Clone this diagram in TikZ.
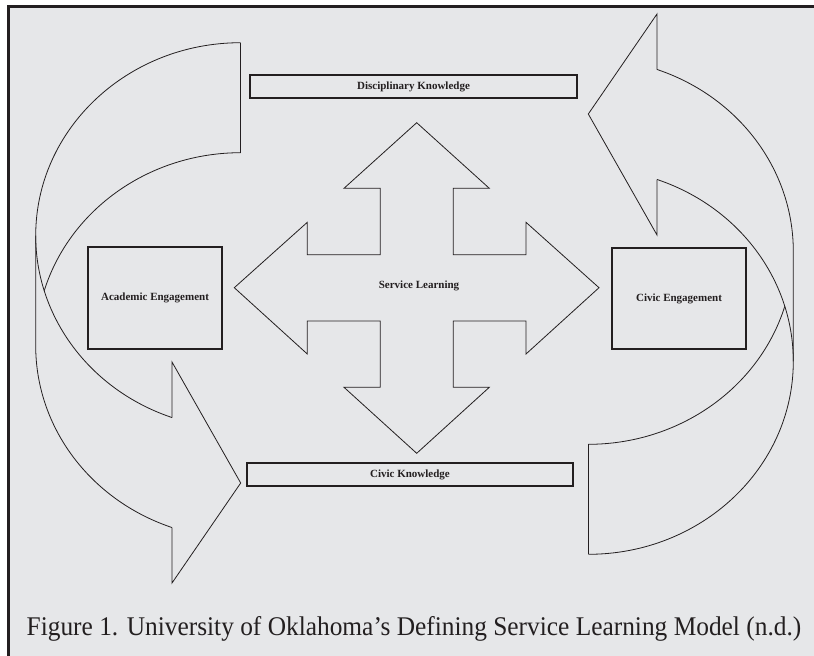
\documentclass[tikz,border=0pt]{standalone}
\usepackage{fontspec}
\setmainfont{Liberation Serif}
\definecolor{ink}{HTML}{231F20}
\definecolor{paper}{HTML}{E6E7E9}
% One curved band arrow: it starts at the top right, runs down the left side
% and points right at the bottom (two equal ellipses offset by the band width).
\newcommand\bandarrow{%
  % top end of the band
  \draw[outline] (240.7,42.7) -- (240.7,152.7);
  % outer edge, running on down to the head
  \draw[outline] (240.7,42.7) arc[start angle=270, end angle=109.6, x radius=205, y radius=193];
  % inner edge of the upper part, ending where it meets the outer edge
  \draw[outline] (240.7,152.7) arc[start angle=270, end angle=196.56, x radius=205, y radius=193];
  % left side and lower edge of the band
  \draw[outline] (35.7,235.7) -- (35.7,345.7) arc[start angle=180, end angle=109.6, x radius=205, y radius=193];
  % arrow head
  \draw[outline] (172,417.5) -- (172,362) -- (240.7,483) -- (172,583) -- (172,527.5);
}
\begin{document}
\begin{tikzpicture}[x=1pt,y=-1pt,
  outline/.style={draw=ink, line width=0.8pt, line join=miter},
  labelbox/.style={draw=ink, line width=1.4pt, inner sep=0pt, text=ink,
    font=\bfseries\fontsize{11}{13}\selectfont},
]
\useasboundingbox (0,0) rectangle (814,656);
\fill[white] (0,0) rectangle (814,656);
\fill[paper] (8,6.5) rectangle (814,656);
\draw[ink, line width=3pt] (8,656) -- (8,6.5) -- (814,6.5);

% curved arrows on both sides
\bandarrow
\begin{scope}[rotate around={180:(414.5,298.5)}]
  \bandarrow
\end{scope}

% four-way arrow in the middle
\draw[outline] (416.7,122.7) -- (489.3,188.3) -- (453.3,188.3) -- (453.3,254.7)
  -- (526,254.7) -- (526,222.3) -- (599,287.7) -- (526,354) -- (526,321)
  -- (453.3,321) -- (453.3,387.3) -- (489.3,387.3) -- (416.7,453.3)
  -- (344,387.3) -- (380.3,387.3) -- (380.3,321) -- (307.3,321) -- (307.3,354)
  -- (234.3,287.7) -- (307.3,222.3) -- (307.3,254.7) -- (380.3,254.7)
  -- (380.3,188.3) -- (344,188.3) -- cycle;
\node[text=ink, font=\bfseries\fontsize{11}{13}\selectfont] (sl) at (419,286) {Service Learning};

% labelled boxes
\node[labelbox, minimum width=327pt, minimum height=23pt] (dk) at (413.5,86.5) {Disciplinary Knowledge};
\node[labelbox, minimum width=326pt, minimum height=23pt] (ck) at (410,474.5) {Civic Knowledge};
\node[labelbox, line width=1.2pt, minimum width=134pt, minimum height=102pt] (ae) at (155,298) {Academic Engagement};
\node[labelbox, line width=1.2pt, minimum width=134pt, minimum height=101pt] (ce) at (679,298.5) {Civic Engagement};

% caption
\node[anchor=base, inner sep=0pt, text=ink, font=\fontsize{27}{30}\selectfont] (cap) at (414,635)
  {\scalebox{0.94}[1]{Figure 1. University of Oklahoma’s Defining Service Learning Model (n.d.)}};
\end{tikzpicture}
\end{document}
